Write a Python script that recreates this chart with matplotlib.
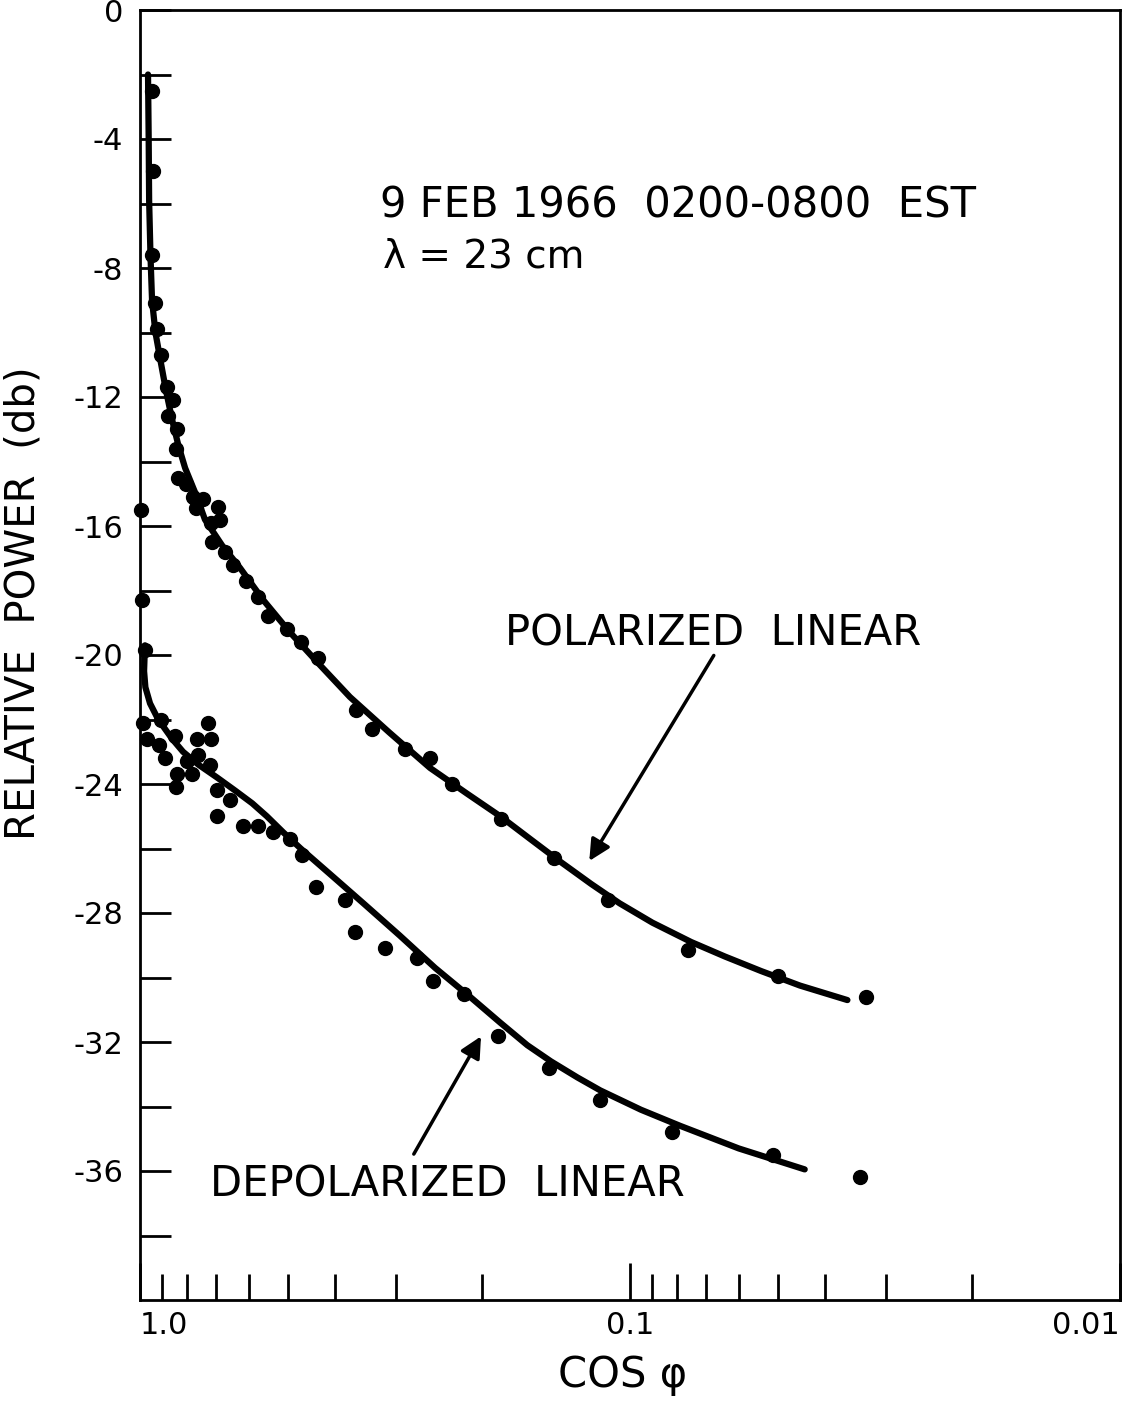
import numpy as np
import matplotlib
matplotlib.use('Agg')
import matplotlib.pyplot as plt
from matplotlib.ticker import FixedLocator, NullFormatter

# measured points, polarized linear (cos phi, relative power dB)
pol_x = [0.945, 0.941, 0.945, 0.930, 0.923, 0.906, 0.881, 0.856, 0.877, 0.840,
         0.845, 0.836, 0.806, 0.780, 0.744, 0.768, 0.693, 0.687, 0.716, 0.713,
         0.671, 0.646, 0.607, 0.574, 0.548, 0.501, 0.469, 0.433, 0.362, 0.336,
         0.288, 0.256, 0.231, 0.183, 0.143, 0.111, 0.076, 0.050, 0.033]
pol_y = [-2.5, -5.0, -7.6, -9.1, -9.9, -10.7, -11.7, -12.1, -12.6, -13.0,
         -13.6, -14.5, -14.7, -15.1, -15.15, -15.45, -15.4, -15.8, -15.9, -16.5,
         -16.8, -17.2, -17.7, -18.2, -18.8, -19.2, -19.6, -20.1, -21.7, -22.3,
         -22.9, -23.2, -24.0, -25.1, -26.3, -27.6, -29.15, -29.95, -30.6]

# measured points, depolarized linear
dep_x = [0.995, 0.990, 0.977, 0.986, 0.968, 0.906, 0.915, 0.889, 0.848, 0.765,
         0.727, 0.716, 0.761, 0.783, 0.840, 0.845, 0.802, 0.720, 0.696, 0.655,
         0.696, 0.616, 0.575, 0.535, 0.494, 0.467, 0.437, 0.381, 0.364, 0.316,
         0.272, 0.252, 0.218, 0.186, 0.146, 0.115, 0.082, 0.051, 0.034]
dep_y = [-15.5, -18.3, -19.85, -22.1, -22.6, -22.0, -22.8, -23.2, -22.5, -22.6,
         -22.1, -22.6, -23.1, -23.7, -23.7, -24.1, -23.3, -23.4, -24.2, -24.5,
         -25.0, -25.3, -25.3, -25.5, -25.7, -26.2, -27.2, -27.6, -28.6, -29.1,
         -29.4, -30.1, -30.5, -31.8, -32.8, -33.8, -34.8, -35.5, -36.2]

# hand drawn fit curves
pol_fit_x = [0.963, 0.960, 0.958, 0.952, 0.945, 0.930, 0.910, 0.885, 0.860, 0.835,
             0.809, 0.770, 0.737, 0.680, 0.625, 0.560, 0.494, 0.430, 0.373, 0.310,
             0.256, 0.215, 0.184, 0.160, 0.139, 0.120, 0.105, 0.090, 0.075, 0.064,
             0.054, 0.045, 0.036]
pol_fit_y = [-2.0, -4.0, -5.9, -7.6, -9.0, -10.0, -10.8, -11.8, -12.7, -13.5,
             -14.2, -15.0, -15.8, -16.6, -17.3, -18.3, -19.3, -20.3, -21.3, -22.4,
             -23.5, -24.3, -25.0, -25.7, -26.4, -27.1, -27.7, -28.3, -28.9, -29.35,
             -29.8, -30.25, -30.7]

dep_fit_x = [0.977, 0.981, 0.975, 0.954, 0.925, 0.898, 0.860, 0.817, 0.760, 0.696,
             0.640, 0.590, 0.551, 0.510, 0.470, 0.409, 0.350, 0.295, 0.250, 0.212,
             0.184, 0.162, 0.145, 0.128, 0.115, 0.095, 0.079, 0.060, 0.044]
dep_fit_y = [-19.7, -20.5, -21.0, -21.5, -21.9, -22.2, -22.6, -23.0, -23.4, -23.8,
             -24.2, -24.6, -25.0, -25.5, -26.0, -26.8, -27.7, -28.7, -29.7, -30.6,
             -31.4, -32.1, -32.6, -33.1, -33.5, -34.1, -34.6, -35.3, -35.95]

y_labels = ['0', '-4', '-8', '-12', '-16', '-20', '-24', '-28', '-32', '-36']
y_major = [0, -4, -8, -12, -16, -20, -24, -28, -32, -36]
y_minor = [-2, -6, -10, -14, -18, -22, -26, -30, -34, -38]
x_major = [1.0, 0.1, 0.01]
x_labels = ['1.0', '0.1', '0.01']
x_minor = [0.9, 0.8, 0.7, 0.6, 0.5, 0.4, 0.3, 0.2,
           0.09, 0.08, 0.07, 0.06, 0.05, 0.04, 0.03, 0.02]

plt.rcParams['font.family'] = ['DejaVu Sans']

fig = plt.figure(figsize=(11.26, 14.11), dpi=100)
ax = fig.add_axes([140/1126, 1-1300/1411, 980/1126, 1290/1411])

ax.set_xscale('log')
ax.set_xlim(1.0, 0.01)
ax.set_ylim(-40, 0)

ax.plot(pol_fit_x, pol_fit_y, color='black', lw=4.5, solid_capstyle='round', solid_joinstyle='round')
ax.plot(dep_fit_x, dep_fit_y, color='black', lw=4.5, solid_capstyle='round', solid_joinstyle='round')
ax.plot(pol_x, pol_y, 'o', color='black', ms=10, clip_on=False)
ax.plot(dep_x, dep_y, 'o', color='black', ms=10, clip_on=False)

for s in ax.spines.values():
    s.set_linewidth(2)

ax.yaxis.set_major_locator(FixedLocator(y_major))
ax.yaxis.set_minor_locator(FixedLocator(y_minor))
ax.set_yticklabels(y_labels)
ax.xaxis.set_major_locator(FixedLocator(x_major))
ax.xaxis.set_minor_locator(FixedLocator(x_minor))
ax.xaxis.set_minor_formatter(NullFormatter())
ax.set_xticklabels(x_labels)

ax.tick_params(axis='y', which='both', direction='in', length=22, width=2,
               labelsize=22, pad=12)
ax.tick_params(axis='x', which='minor', direction='in', length=19, width=2)
ax.tick_params(axis='x', which='major', direction='in', length=27, width=2,
               labelsize=22, pad=8)
xt = ax.get_xticklabels()
xt[0].set_horizontalalignment('left')
xt[-1].set_horizontalalignment('right')

ax.set_ylabel('RELATIVE  POWER  (db)', fontsize=29)
ax.yaxis.set_label_coords(-0.098, 0.54)
ax.set_xlabel('COS φ', fontsize=30)
ax.xaxis.set_label_coords(0.492, -0.042)

ax.text(0.3236, -6.43, '9 FEB 1966  0200-0800  EST', fontsize=30, va='baseline')
ax.text(0.319, -7.98, 'λ = 23 cm', fontsize=28, va='baseline')
ax.text(0.180, -19.72, 'POLARIZED  LINEAR', fontsize=30, va='baseline')
ax.text(0.72, -36.8, 'DEPOLARIZED  LINEAR', fontsize=30, va='baseline')

ax.annotate('', xy=(0.1219, -26.46), xytext=(0.0670, -19.94),
            arrowprops=dict(arrowstyle='-|>', lw=2.5, mutation_scale=32, color='black'))
ax.annotate('', xy=(0.2001, -31.75), xytext=(0.278, -35.55),
            arrowprops=dict(arrowstyle='-|>', lw=2.5, mutation_scale=32, color='black'))

fig.savefig('out.png', dpi=100)
